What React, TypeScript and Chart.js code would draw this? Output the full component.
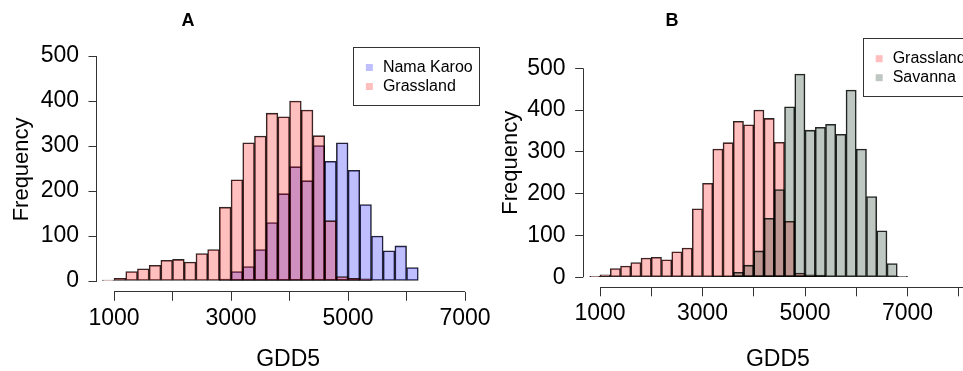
import { useEffect, useRef } from 'react';
import { Chart, registerables } from 'chart.js';

Chart.register(...registerables);

// ---- data ----
const binStarts = [800, 1000, 1200, 1400, 1600, 1800, 2000, 2200, 2400, 2600, 2800, 3000, 3200, 3400, 3600, 3800, 4000, 4200, 4400, 4600, 4800, 5000, 5200, 5400, 5600, 5800, 6000, 6200, 6400, 6600, 6800];
const binWidth = 200;

const grassland = [2, 6, 21, 27, 35, 46, 48, 42, 61, 70, 164, 225, 307, 322, 373, 365, 400, 380, 323, 134, 10, 6, 5, null, null, null, null, null, null, null, null];
const namaKaroo = [null, null, null, null, null, null, null, null, null, null, 4, 21, 32, 70, 130, 194, 254, 223, 301, 266, 307, 246, 170, 100, 67, 78, 30, null, null, null, null];
const savanna = [null, null, null, null, null, null, null, null, null, null, null, null, 2, 1, 12, 29, 63, 141, 210, 408, 486, 352, 359, 366, 342, 448, 307, 193, 111, 33, 2];

const yTicks = [0, 100, 200, 300, 400, 500];
const xTicksA = [1000, 2000, 3000, 4000, 5000, 6000, 7000];
const xTicksB = [1000, 2000, 3000, 4000, 5000, 6000, 7000, 8000];
const xLabelsShown = [1000, 3000, 5000, 7000];

const nameNama = 'Nama Karoo';
const nameGrass = 'Grassland';
const nameSavanna = 'Savanna';
const xTitle = 'GDD5';
const yTitle = 'Frequency';

// ---- styles ----
const FONT = "'Liberation Sans', Arial, Helvetica, sans-serif";
const COL_NAMA = 'rgba(0,0,255,0.25)';
const COL_GRASS = 'rgba(255,0,0,0.25)';
const COL_SAV = 'rgba(0,30,10,0.25)';
const BORDER = 'rgba(0,0,0,0.85)';
const AXIS = '#333';

const alignPx = (p: number) => Math.round(p - 0.5) + 0.5;

const rAxesPlugin = {
  id: 'rAxes',
  afterDraw(chart: any, _args: any, opts: any) {
    const { ctx, chartArea, scales } = chart;
    const x = scales.x;
    const y = scales.y;
    ctx.save();
    ctx.strokeStyle = AXIS;
    ctx.lineWidth = 1;
    ctx.beginPath();
    const yb = alignPx(chartArea.bottom);
    ctx.moveTo(x.getPixelForValue(opts.xFrom), yb);
    ctx.lineTo(x.getPixelForValue(opts.xTo), yb);
    const xl = alignPx(chartArea.left);
    ctx.moveTo(xl, y.getPixelForValue(opts.yFrom));
    ctx.lineTo(xl, y.getPixelForValue(opts.yTo));
    ctx.stroke();
    ctx.restore();
  },
};

const rLegendPlugin = {
  id: 'rLegend',
  afterDraw(chart: any, _args: any, opts: any) {
    const { ctx, chartArea } = chart;
    ctx.save();
    ctx.font = `16px ${FONT}`;
    const items = opts.items as { label: string; color: string }[];
    const tw = Math.max(...items.map((it) => ctx.measureText(it.label).width));
    const w = 29 + tw + 7;
    const h = 58;
    const left = chartArea.right - w;
    const top = chartArea.top;
    ctx.fillStyle = '#fff';
    ctx.fillRect(left, top, w, h);
    ctx.strokeStyle = AXIS;
    ctx.lineWidth = 1;
    ctx.strokeRect(alignPx(left), alignPx(top), Math.round(w), Math.round(h));
    items.forEach((it, i) => {
      const cy = top + 20.5 + i * 19;
      ctx.fillStyle = it.color;
      ctx.fillRect(left + 12, cy - 3.5, 7, 7);
      ctx.fillStyle = '#000';
      ctx.textBaseline = 'middle';
      ctx.textAlign = 'left';
      ctx.fillText(it.label, left + 29, cy);
    });
    ctx.restore();
  },
};

const panelLabelPlugin = {
  id: 'panelLabel',
  afterDraw(chart: any, _args: any, opts: any) {
    const { ctx } = chart;
    ctx.save();
    ctx.font = `bold 18px ${FONT}`;
    ctx.fillStyle = '#000';
    ctx.textAlign = 'center';
    ctx.textBaseline = 'middle';
    ctx.fillText(opts.text, opts.x, opts.y);
    ctx.restore();
  },
};

type Series = { label: string; values: (number | null)[]; color: string };

function makeConfig(p: any): any {
  const datasets = (p.series as Series[]).map((s) => ({
    label: s.label,
    data: binStarts
      .map((b, i) => ({ x: b + binWidth / 2, y: s.values[i] }))
      .filter((d) => d.y !== null),
    backgroundColor: s.color,
    borderColor: BORDER,
    borderWidth: 0.9,
    borderSkipped: false,
    grouped: false,
    categoryPercentage: 1,
    barPercentage: 1,
    minBarLength: 1,
  }));
  return {
    type: 'bar',
    data: { datasets },
    options: {
      animation: false,
      responsive: false,
      events: [],
      layout: { padding: { left: 0, top: p.top, right: p.right, bottom: 0 } },
      font: { family: FONT },
      plugins: {
        legend: { display: false },
        tooltip: { enabled: false },
        title: { display: false },
        rAxes: { xFrom: p.xTicks[0], xTo: p.axisEnd, yFrom: 0, yTo: 500 },
        rLegend: { items: p.legend },
        panelLabel: { text: p.label, x: p.labelX, y: 21 },
      },
      scales: {
        x: {
          type: 'linear',
          min: p.xMin,
          max: p.xMax,
          offset: false,
          grid: { offset: false, drawOnChartArea: false, drawTicks: true, tickLength: 9, color: AXIS, lineWidth: 1 },
          border: { display: false },
          ticks: {
            autoSkip: false,
            maxRotation: 0,
            minRotation: 0,
            padding: 4,
            color: '#000',
            font: { family: FONT, size: 23 },
            callback: (v: number) => (xLabelsShown.includes(v) ? String(v) : ''),
          },
          afterBuildTicks: (s: any) => {
            s.ticks = (p.xTicks as number[]).map((v) => ({ value: v }));
          },
          afterFit: (s: any) => {
            s.height = p.xHeight;
          },
          title: {
            display: true,
            text: xTitle,
            color: '#000',
            font: { family: FONT, size: 23, lineHeight: 1 },
            padding: { top: 0, bottom: 0 },
          },
        },
        y: {
          type: 'linear',
          min: p.yMin,
          max: p.yMax,
          grid: { drawOnChartArea: false, drawTicks: true, tickLength: 8, color: AXIS, lineWidth: 1 },
          border: { display: false },
          ticks: {
            padding: 9.5,
            color: '#000',
            font: { family: FONT, size: 23 },
          },
          afterBuildTicks: (s: any) => {
            s.ticks = yTicks.map((v) => ({ value: v }));
          },
          afterFit: (s: any) => {
            s.width = p.yWidth;
          },
          title: {
            display: true,
            text: yTitle,
            color: '#000',
            font: { family: FONT, size: 22, lineHeight: 1 },
            padding: { top: p.yTitlePad, bottom: 0 },
          },
        },
      },
    },
    plugins: [rAxesPlugin, rLegendPlugin, panelLabelPlugin],
  };
}

const panelA = {
  label: 'A',
  labelX: 188,
  series: [
    { label: nameGrass, values: grassland, color: COL_GRASS },
    { label: nameNama, values: namaKaroo, color: COL_NAMA },
  ],
  legend: [
    { label: nameNama, color: COL_NAMA },
    { label: nameGrass, color: COL_GRASS },
  ],
  xTicks: xTicksA,
  axisEnd: 7000,
  xMin: 700,
  xMax: 7250,
  yMin: -24,
  yMax: 520,
  top: 47,
  right: 30.3,
  xHeight: 79.2,
  yWidth: 96.5,
  yTitlePad: 11,
};

const panelB = {
  label: 'B',
  labelX: 182,
  series: [
    { label: nameSavanna, values: savanna, color: COL_SAV },
    { label: nameGrass, values: grassland, color: COL_GRASS },
  ],
  legend: [
    { label: nameGrass, color: COL_GRASS },
    { label: nameSavanna, color: COL_SAV },
  ],
  xTicks: xTicksB,
  axisEnd: 9000,
  xMin: 670,
  xMax: 8270,
  yMin: -24,
  yMax: 572,
  top: 38.2,
  right: 47.4,
  xHeight: 83.7,
  yWidth: 93.1,
  yTitlePad: 10,
};

function Panel({ cfg, left, width }: { cfg: any; left: number; width: number }) {
  const ref = useRef<HTMLCanvasElement | null>(null);
  useEffect(() => {
    if (!ref.current) return;
    const chart = new Chart(ref.current, makeConfig(cfg));
    return () => chart.destroy();
  }, [cfg]);
  return (
    <canvas
      ref={ref}
      width={width}
      height={371}
      style={{ position: 'absolute', left, top: 0, width, height: 371 }}
    />
  );
}

export default function App() {
  return (
    <div
      style={{
        position: 'fixed',
        left: 0,
        top: 0,
        width: 963,
        height: 371,
        overflow: 'hidden',
        background: '#fff',
      }}
    >
      <Panel cfg={panelA} left={0} width={510} />
      <Panel cfg={panelB} left={490} width={530} />
    </div>
  );
}
